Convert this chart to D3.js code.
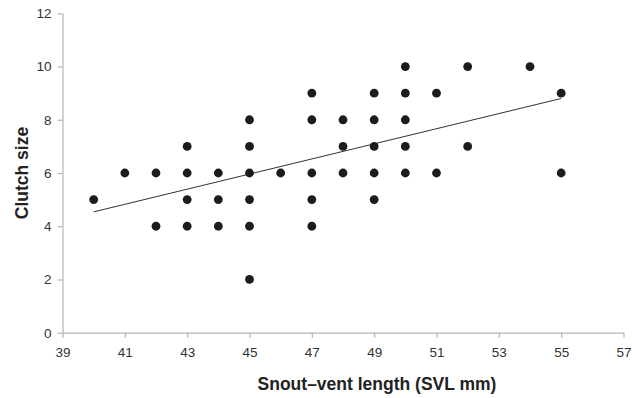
<!DOCTYPE html>
<html>
<head>
<meta charset="utf-8">
<script src="https://cdn.jsdelivr.net/npm/d3@7"></script>
<style>
  body { margin: 0; background: #fff; }
  text { font-family: "Liberation Sans", Arial, sans-serif; }
</style>
</head>
<body>
<svg id="chart" width="632" height="398"></svg>
<script>
// snout-vent length (mm) and clutch size per female
var svl = [40, 41, 42, 42, 43, 43, 43, 43, 44, 44, 44,
  45, 45, 45, 45, 45, 45, 46, 47, 47, 47, 47, 47,
  48, 48, 48, 49, 49, 49, 49, 49, 50, 50, 50, 50, 50,
  51, 51, 52, 52, 54, 55, 55];
var clutch = [5, 6, 6, 4, 7, 6, 5, 4, 6, 5, 4,
  8, 7, 6, 5, 4, 2, 6, 9, 8, 6, 5, 4,
  8, 7, 6, 9, 8, 7, 6, 5, 10, 9, 8, 7, 6,
  9, 6, 10, 7, 10, 9, 6];
// fitted line, end points
var trendX = [40, 55];
var trendY = [4.54, 8.8];
var xTicks = [39, 41, 43, 45, 47, 49, 51, 53, 55, 57];
var yTicks = [0, 2, 4, 6, 8, 10, 12];

var svg = d3.select('#chart');
var plotL = 62.5, plotR = 623.5, plotT = 13.3, plotB = 332.7;

var x = d3.scaleLinear().domain([39, 57]).range([plotL, plotR]);
var y = d3.scaleLinear().domain([0, 12]).range([plotB, plotT]);

var xAxis = svg.append('g')
  .attr('transform', 'translate(0,' + plotB + ')')
  .call(d3.axisBottom(x).tickValues(xTicks).tickSize(5).tickPadding(10).tickSizeOuter(0));
var yAxis = svg.append('g')
  .attr('transform', 'translate(' + plotL + ',0)')
  .call(d3.axisLeft(y).tickValues(yTicks).tickSize(5).tickPadding(6).tickSizeOuter(0));

[xAxis, yAxis].forEach(function (g) {
  g.attr('font-size', null).attr('font-family', null);
  g.select('.domain').attr('stroke', '#b4b4b4').attr('stroke-width', 1.2);
  g.selectAll('.tick line').attr('stroke', '#b4b4b4').attr('stroke-width', 1.2);
  g.selectAll('.tick text')
    .attr('fill', '#333')
    .style('font-size', '13.5px');
});

svg.append('line')
  .attr('x1', x(trendX[0])).attr('y1', y(trendY[0]))
  .attr('x2', x(trendX[1])).attr('y2', y(trendY[1]))
  .attr('stroke', '#333')
  .attr('stroke-width', 1);

svg.append('g').selectAll('circle')
  .data(svl)
  .enter().append('circle')
  .attr('cx', function (d) { return x(d); })
  .attr('cy', function (d, i) { return y(clutch[i]); })
  .attr('r', 4.4)
  .attr('fill', '#1c1c1c');

svg.append('text')
  .attr('x', 377)
  .attr('y', 390)
  .attr('text-anchor', 'middle')
  .style('font-size', '17.5px')
  .style('font-weight', 'bold')
  .attr('fill', '#222')
  .text('Snout\u2013vent length (SVL mm)');

svg.append('text')
  .attr('transform', 'translate(28,' + 173 + ')rotate(270)')
  .attr('text-anchor', 'middle')
  .style('font-size', '17.5px')
  .style('font-weight', 'bold')
  .attr('fill', '#222')
  .text('Clutch size');
</script>
</body>
</html>
